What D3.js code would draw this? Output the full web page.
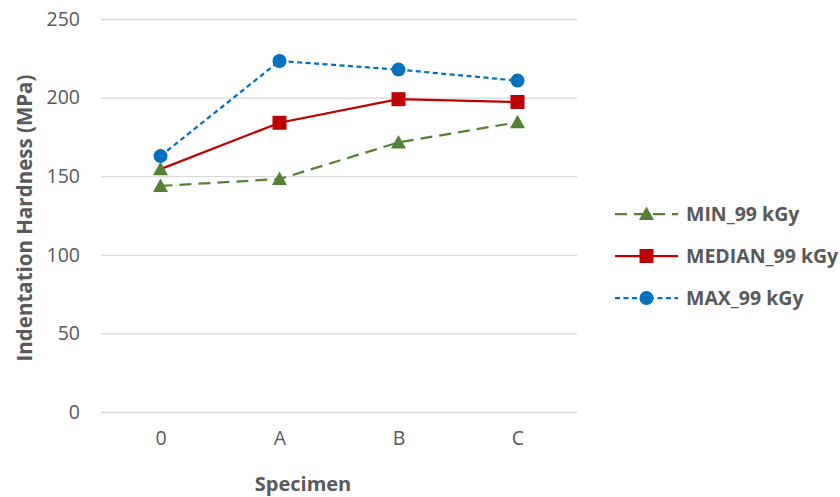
<!DOCTYPE html>
<html><head><meta charset="utf-8">
<script src="https://cdnjs.cloudflare.com/ajax/libs/d3/7.8.5/d3.min.js"></script>
<style>body{margin:0;background:#fff}svg{display:block}</style>
</head><body>
<script>
const categories = ["0","A","B","C"];
const minValues = [143.8, 148.2, 171.5, 184.3];
const medianValues = [154.5, 184.0, 199.0, 197.2];
const maxValues = [162.8, 223.3, 217.8, 210.8];
const yTicks = [0, 50, 100, 150, 200, 250];
const seriesNames = ["MIN_99 kGy", "MEDIAN_99 kGy", "MAX_99 kGy"];

const W = 840, H = 497;
const svg = d3.select("body").append("svg").attr("width", W).attr("height", H);
const font = "'Open Sans', 'Liberation Sans', sans-serif";
const x = d3.scalePoint().domain(categories).range([101, 577]).padding(0.5);
const y = d3.scaleLinear().domain([0, 250]).range([412, 19]);

// gridlines
const yAxis = d3.axisLeft(y).tickValues(yTicks).tickSize(-(577 - 101)).tickPadding(21);
const gy = svg.append("g").attr("transform", "translate(101,0)").call(yAxis);
gy.select(".domain").remove();
gy.selectAll(".tick line").attr("stroke", "#d9d9d9").attr("stroke-width", 1.3);
gy.selectAll(".tick text").attr("fill", "#595959").style("font-family", font).style("font-size", "19.5px");

const xAxis = d3.axisBottom(x).tickSize(0).tickPadding(19);
const gx = svg.append("g").attr("transform", "translate(0,412)").call(xAxis);
gx.select(".domain").remove();
gx.selectAll(".tick text").attr("fill", "#595959").style("font-family", font).style("font-size", "19.5px");

svg.append("text").attr("x", 303).attr("y", 491).attr("text-anchor", "middle")
  .attr("fill", "#595959").style("font-family", font).style("font-size", "20px").style("font-weight", "bold")
  .text("Specimen");
svg.append("text").attr("transform", "translate(32,218) rotate(-90)").attr("text-anchor", "middle")
  .attr("fill", "#595959").style("font-family", font).style("font-size", "20.5px").style("font-weight", "bold")
  .text("Indentation Hardness (MPa)");

const series = [
  {name: seriesNames[0], values: minValues, color: "#548235", dash: "12,7", shape: "triangle", width: 2.25},
  {name: seriesNames[1], values: medianValues, color: "#C00000", dash: null, shape: "square", width: 2.25},
  {name: seriesNames[2], values: maxValues, color: "#0070C0", dash: "5,3.5", shape: "circle", width: 2.25}
];
const line = d3.line().x((d, i) => x(categories[i])).y(d => y(d));

function marker(g, shape, color, cx, cy) {
  if (shape === "circle") g.append("circle").attr("cx", cx).attr("cy", cy).attr("r", 7).attr("fill", color);
  else if (shape === "square") g.append("rect").attr("x", cx - 7).attr("y", cy - 7).attr("width", 14).attr("height", 14).attr("fill", color);
  else g.append("path").attr("d", `M${cx},${cy - 7.5}L${cx + 7.5},${cy + 6}L${cx - 7.5},${cy + 6}Z`).attr("fill", color);
}

series.forEach(s => {
  svg.append("path").datum(s.values).attr("d", line).attr("fill", "none")
    .attr("stroke", s.color).attr("stroke-width", s.width).attr("stroke-dasharray", s.dash);
});
series.forEach(s => {
  const g = svg.append("g");
  s.values.forEach((v, i) => {
    // first MEDIAN point is drawn with the MIN-style triangle marker as in the reference
    if (s.shape === "square" && i === 0) marker(g, "triangle", series[0].color, x(categories[i]), y(v));
    else marker(g, s.shape, s.color, x(categories[i]), y(v));
  });
});

// legend
const ly = [214, 256, 298];
series.forEach((s, i) => {
  const g = svg.append("g");
  g.append("line").attr("x1", 615).attr("x2", 678).attr("y1", ly[i]).attr("y2", ly[i])
    .attr("stroke", s.color).attr("stroke-width", 2.25).attr("stroke-dasharray", s.dash);
  marker(g, s.shape, s.color, 646.5, ly[i]);
  g.append("text").attr("x", 686).attr("y", ly[i] + 7).attr("fill", "#595959")
    .style("font-family", font).style("font-size", "19.5px").style("font-weight", "bold").text(s.name);
});
</script>
</body></html>
